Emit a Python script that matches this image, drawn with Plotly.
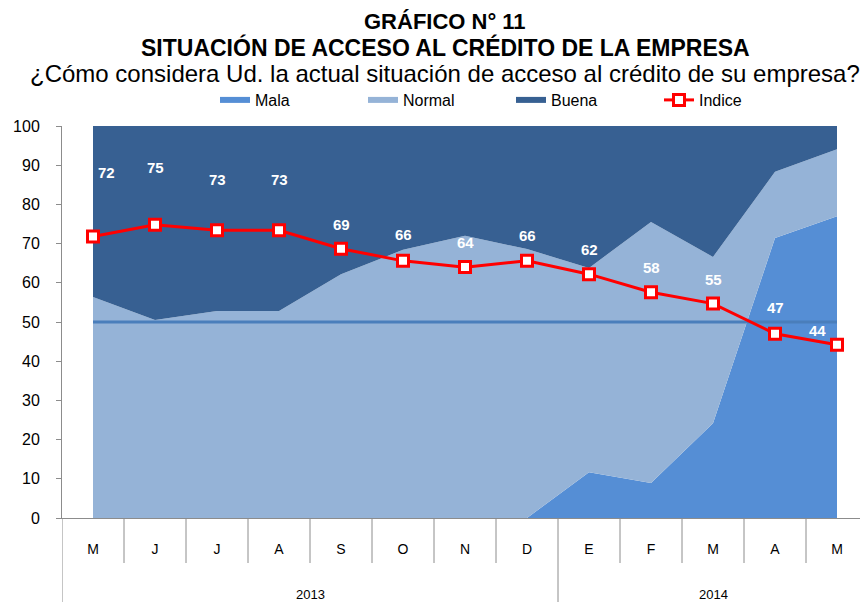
import plotly.graph_objects as go

# ---- data ----
meses = ["M", "J", "J", "A", "S", "O", "N", "D", "E", "F", "M", "A", "M"]
anios = ["2013", "2014"]
meses_por_anio = [8, 5]
mala = [0, 0, 0, 0, 0, 0, 0, 0, 11.7, 8.9, 24.2, 71.4, 77.0]
normal = [56.4, 50.5, 52.8, 52.8, 62.2, 68.4, 72.0, 68.6, 52.1, 66.6, 42.4, 16.9, 17.1]
buena = [43.6, 49.5, 47.2, 47.2, 37.8, 31.6, 28.0, 31.4, 36.2, 24.5, 33.4, 11.7, 5.9]
indice = [71.8, 74.8, 73.4, 73.4, 68.7, 65.6, 64.0, 65.6, 62.2, 57.6, 54.7, 47.0, 44.2]
umbral = [50] * 13

x = list(range(len(meses)))

C_MALA = "#558ED5"
C_NORMAL = "#95B3D7"
C_BUENA = "#376092"
C_LINE50 = "#4A7EBB"
GREY = "#8C8C8C"
FONT = "Liberation Sans, Arial, sans-serif"

# page body has an 8px margin: figure is placed at (8, 8)
OFF = 8
W, H = 868 - OFF, 602 - OFF
PLOT_TOP, PLOT_BOTTOM, PLOT_LEFT = 126, 518, 62
ML, MT, MB = PLOT_LEFT - OFF, PLOT_TOP - OFF, 602 - PLOT_BOTTOM
plot_h = PLOT_BOTTOM - PLOT_TOP
plot_w = 868 - PLOT_LEFT

fig = go.Figure()
for name, vals, col in [("Mala", mala, C_MALA), ("Normal", normal, C_NORMAL), ("Buena", buena, C_BUENA)]:
    fig.add_trace(go.Scatter(
        x=x, y=vals, name=name, stackgroup="one", mode="none",
        fillcolor=col, line=dict(width=0, color=col), hoverinfo="skip"))

fig.add_trace(go.Scatter(
    x=x, y=umbral, mode="lines", line=dict(color=C_LINE50, width=3),
    showlegend=False, hoverinfo="skip"))

fig.add_trace(go.Scatter(
    x=x, y=indice, name="Indice", mode="lines+markers",
    line=dict(color="#FF0000", width=3),
    marker=dict(symbol="square", size=11, color="white",
                line=dict(color="#FF0000", width=3))))

# data labels (offsets are presentation only)
label_dx = [13, 0, 0, 0, 0, 0, 0, 0, 0, 0, 0, 0, -20]
label_dy = [64, 57, 51, 51, 24, 26, 25, 25, 25, 25, 24, 26, 14]
for i, v in enumerate(indice):
    fig.add_annotation(x=x[i], y=v, text=f"<b>{round(v)}</b>", showarrow=False,
                       xshift=label_dx[i], yshift=label_dy[i],
                       font=dict(color="white", size=15, family=FONT))

# category dividers and year labels
n = len(meses)
month_drop = -(563 - PLOT_BOTTOM) / plot_h
year_drop = -(602 - PLOT_BOTTOM) / plot_h
year_bounds = [-0.5]
for k in meses_por_anio:
    year_bounds.append(year_bounds[-1] + k)
for b in [i - 0.5 for i in range(1, n)]:
    if b in year_bounds:
        continue
    fig.add_shape(type="line", xref="x", yref="paper", x0=b, x1=b, y0=0, y1=month_drop,
                  line=dict(color=GREY, width=1))
for b in year_bounds[:-1]:
    fig.add_shape(type="line", xref="x", yref="paper", x0=b, x1=b, y0=0, y1=year_drop,
                  line=dict(color=GREY, width=1))
for j, yr in enumerate(anios):
    cx = (year_bounds[j] + year_bounds[j + 1]) / 2
    fig.add_annotation(x=cx, xref="x", y=-(594 - PLOT_BOTTOM) / plot_h, yref="paper", text=yr,
                       yanchor="middle", showarrow=False,
                       font=dict(size=13, color="black", family=FONT))

# titles
def py(pix):
    return 1 + (PLOT_TOP - pix) / plot_h

tx = (445 - PLOT_LEFT) / plot_w
fig.add_annotation(x=tx, y=py(22), xref="paper", yref="paper", showarrow=False, yanchor="middle",
                   text="<b>GRÁFICO N° 11</b>", font=dict(size=22, color="black", family=FONT))
fig.add_annotation(x=tx, y=py(47), xref="paper", yref="paper", showarrow=False, yanchor="middle",
                   text="<b>SITUACIÓN DE ACCESO AL CRÉDITO DE LA EMPRESA</b>",
                   font=dict(size=23, color="black", family=FONT))
fig.add_annotation(x=tx, y=py(74), xref="paper", yref="paper", showarrow=False, yanchor="middle",
                   text="¿Cómo considera Ud. la actual situación de acceso al crédito de su empresa?",
                   font=dict(size=24, color="black", family=FONT))

fig.update_layout(
    width=W, height=H,
    margin=dict(l=ML, r=0, t=MT, b=MB),
    paper_bgcolor="white", plot_bgcolor="white",
    font=dict(family=FONT, color="black"),
    showlegend=True,
    legend=dict(orientation="h", x=(215 - PLOT_LEFT) / plot_w, xanchor="left",
                y=py(100), yanchor="middle",
                traceorder="normal", entrywidth=103, font=dict(size=16, family=FONT),
                bgcolor="rgba(0,0,0,0)"),
    xaxis=dict(range=[-0.5, n - 0.5], tickvals=x, ticktext=meses, ticks="",
               showline=True, linecolor=GREY, linewidth=1, showgrid=False, zeroline=False,
               ticklabelstandoff=18, tickfont=dict(size=14, color="black")),
    yaxis=dict(range=[0, 100], dtick=10, ticks="outside", ticklen=5, tickcolor=GREY,
               showline=True, linecolor=GREY, linewidth=1, showgrid=False, zeroline=False,
               ticklabelstandoff=13, tickfont=dict(size=16, color="black")),
)

fig.write_html("out.html")
